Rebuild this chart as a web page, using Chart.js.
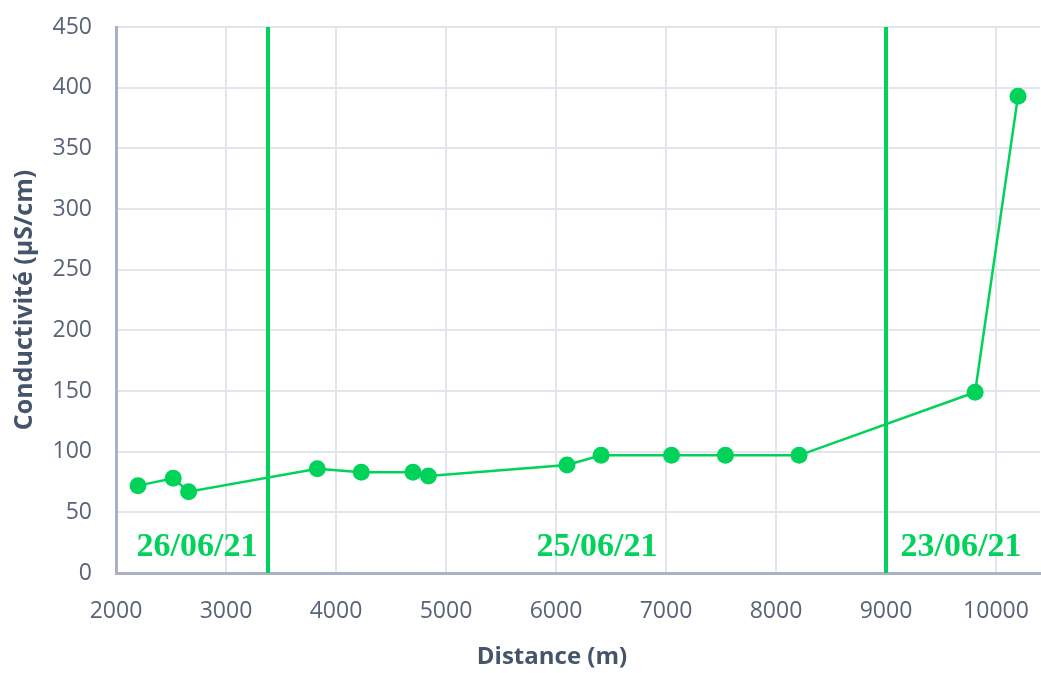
<!DOCTYPE html>
<html>
<head>
<meta charset="utf-8">
<script src="https://cdn.jsdelivr.net/npm/chart.js@4/dist/chart.umd.min.js"></script>
<style>
    html, body { margin: 0; padding: 0; background: #fff; }
    #wrap { width: 1041px; height: 673px; }
</style>
</head>
<body>
<div id="wrap"><canvas id="chart"></canvas></div>
<script>
// Données
const distances = [2200, 2520, 2660, 3830, 4230, 4700, 4840, 6100, 6410, 7050, 7540, 8210, 9810, 10200];
const conductivite = [72, 78, 67, 86, 83, 83, 80, 89, 97, 97, 97, 97, 149, 393];
const xTicks = [2000, 3000, 4000, 5000, 6000, 7000, 8000, 9000, 10000];

// Séparations entre les jours de mesure
const separations = [3382, 9000];
const dateLabels = ['26/06/21', '25/06/21', '23/06/21'];
const dateLabelX = [2736, 6373, 9682];
const dateLabelY = 21;

const vert = '#00D25A';
const tickColor = '#596478';
const titleColor = '#44546A';
const gridColor = '#E1E5EC';

const datasets = [{
    data: distances.map((d, i) => ({ x: d, y: conductivite[i] })),
    borderColor: vert,
    backgroundColor: vert,
    borderWidth: 2.5,
    pointRadius: 8.5,
    pointHoverRadius: 8.5,
    pointBorderWidth: 0,
    tension: 0
}];
separations.forEach(s => {
    datasets.push({
        data: [{ x: s, y: 0 }, { x: s, y: 450 }],
        borderColor: vert,
        borderWidth: 4,
        pointRadius: 0,
        clip: false
    });
});

// Étiquettes de dates + titre de l'axe X (centré sur toute la largeur, comme dans Excel)
const labelsPlugin = {
    id: 'dateLabels',
    afterDatasetsDraw(chart) {
        const ctx = chart.ctx;
        const xs = chart.scales.x, ys = chart.scales.y;
        ctx.save();
        ctx.font = 'bold 34px "Liberation Serif", "Times New Roman", serif';
        ctx.fillStyle = vert;
        ctx.textAlign = 'center';
        ctx.textBaseline = 'middle';
        dateLabels.forEach((t, i) => {
            ctx.fillText(t, xs.getPixelForValue(dateLabelX[i]), ys.getPixelForValue(dateLabelY));
        });
        ctx.font = 'bold 24px "Open Sans", sans-serif';
        ctx.fillStyle = titleColor;
        ctx.fillText('Distance (m)', (xs.left + xs.right) / 2 - 26, xs.bottom - 16);
        ctx.restore();
    }
};

new Chart(document.getElementById('chart'), {
    type: 'line',
    data: { datasets: datasets },
    options: {
        responsive: true,
        maintainAspectRatio: false,
        animation: false,
        layout: { autoPadding: false, padding: { top: 27, right: 1, left: 0, bottom: 0 } },
        plugins: { legend: { display: false }, tooltip: { enabled: false } },
        scales: {
            x: {
                type: 'linear',
                min: 2000,
                max: 10400,
                afterBuildTicks: scale => { scale.ticks = xTicks.map(v => ({ value: v })); },
                afterFit: scale => {
                    scale.height = 100;
                    scale.paddingLeft = 0;
                    scale.paddingRight = 0;
                },
                ticks: {
                    autoSkip: false,
                    color: tickColor,
                    font: { family: '"Open Sans", sans-serif', size: 23 },
                    padding: 25,
                    maxRotation: 0,
                    callback: v => String(v)
                },
                grid: { color: gridColor, lineWidth: 2, drawTicks: false },
                border: { color: '#A8B2C4', width: 3 },
                title: { display: false }
            },
            y: {
                min: 0,
                max: 450,
                afterFit: scale => {
                    scale.width = 116;
                    scale.paddingTop = 0;
                    scale.paddingBottom = 0;
                },
                ticks: {
                    stepSize: 50,
                    color: tickColor,
                    font: { family: '"Open Sans", sans-serif', size: 23 },
                    padding: 24
                },
                grid: { color: gridColor, lineWidth: 2, drawTicks: false },
                border: { color: '#A8B2C4', width: 3 },
                title: {
                    display: true,
                    text: 'Conductivité (µS/cm)',
                    color: titleColor,
                    font: { family: '"Open Sans", sans-serif', size: 25, weight: 'bold' },
                    padding: { top: 10, bottom: 10 }
                }
            }
        }
    },
    plugins: [labelsPlugin]
});
</script>
</body>
</html>
